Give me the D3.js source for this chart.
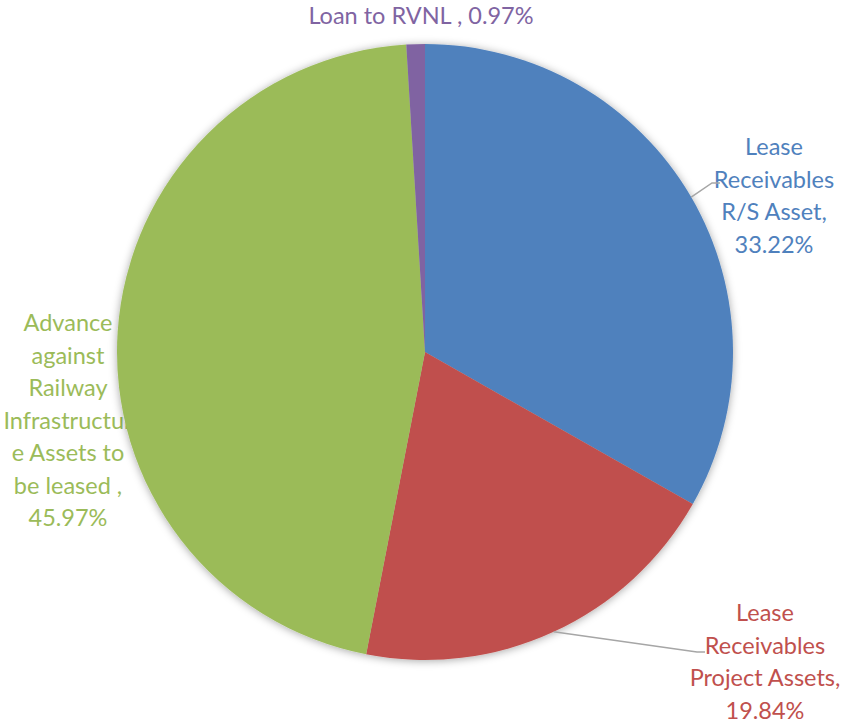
<!DOCTYPE html>
<html>
<head>
<meta charset="utf-8">
<script src="https://cdn.jsdelivr.net/npm/d3@7/dist/d3.min.js"></script>
<style>
  html, body { margin: 0; padding: 0; background: #ffffff; }
  svg { display: block; }
  text { font-family: Lato, "Open Sans", sans-serif; }
</style>
</head>
<body>
<svg id="chart" width="841" height="724"></svg>
<script>
// Portfolio composition
const categories = [
  "Lease Receivables R/S Asset",
  "Lease Receivables Project Assets",
  "Advance against Railway Infrastructure Assets to be leased",
  "Loan to RVNL"
];
const shares = [33.22, 19.84, 45.97, 0.97];
const colors = ["#4F81BD", "#C0504D", "#9BBB59", "#8064A2"];

// Label wrapping (text lines before the value line)
const labelLines = [
  ["Lease", "Receivables", "R/S Asset,"],
  ["Lease", "Receivables", "Project Assets,"],
  ["Advance", "against", "Railway", "Infrastructur", "e Assets to", "be leased ,"],
  ["Loan to RVNL ,"]
];

// Label placement: centre x, first-line baseline y, and leader elbow (null = no leader)
const labelLayout = [
  { x: 774, y: 155, inline: false, elbow: [712, 183] },
  { x: 765, y: 621, inline: false, elbow: [697, 652] },
  { x: 68,  y: 331, inline: false, elbow: null },
  { x: 421, y: 24,  inline: true,  elbow: null }
];

const width = 841, height = 724;
const cx = 425, cy = 352, radius = 308;
const lineHeight = 32.5;

const svg = d3.select("#chart");

const defs = svg.append("defs");
const shadow = defs.append("filter")
  .attr("id", "pieShadow")
  .attr("x", "-20%").attr("y", "-20%")
  .attr("width", "140%").attr("height", "140%");
shadow.append("feDropShadow")
  .attr("dx", 0).attr("dy", 1)
  .attr("stdDeviation", 4)
  .attr("flood-color", "#000")
  .attr("flood-opacity", 0.35);

const data = categories.map((c, i) => ({ name: c, value: shares[i], color: colors[i], i }));

const pie = d3.pie().sort(null).value(d => d.value);
const arcs = pie(data);
const arc = d3.arc().innerRadius(0).outerRadius(radius);

// Labels (drawn first so the pie sits above them)
const labels = svg.append("g").attr("class", "labels");
arcs.forEach((a, i) => {
  const lay = labelLayout[i];
  const lines = lay.inline
    ? [labelLines[i].join(" ") + " " + shares[i].toFixed(2) + "%"]
    : labelLines[i].concat([shares[i].toFixed(2) + "%"]);
  const t = labels.append("text")
    .attr("text-anchor", "middle")
    .attr("font-size", 23.5)
    .attr("fill", colors[i]);
  lines.forEach((ln, k) => {
    t.append("tspan")
      .attr("x", lay.x)
      .attr("y", lay.y + k * lineHeight)
      .text(ln);
  });
});

// Leader lines from the slice mid-angle on the rim
const leaders = svg.append("g").attr("class", "leaders");
arcs.forEach((a, i) => {
  const lay = labelLayout[i];
  if (!lay.elbow) return;
  const mid = (a.startAngle + a.endAngle) / 2;
  const p0 = [cx + radius * Math.sin(mid), cy - radius * Math.cos(mid)];
  const p1 = lay.elbow;
  const p2 = [p1[0] + (p1[0] > p0[0] ? 8 : -8), p1[1]];
  leaders.append("polyline")
    .attr("points", [p0, p1, p2].map(p => p.join(",")).join(" "))
    .attr("fill", "none")
    .attr("stroke", "#A6A6A6")
    .attr("stroke-width", 1.5);
});

// Pie slices
const g = svg.append("g")
  .attr("transform", `translate(${cx},${cy})`)
  .attr("filter", "url(#pieShadow)");
g.selectAll("path")
  .data(arcs)
  .join("path")
  .attr("d", arc)
  .attr("fill", d => d.data.color);

// keep leader start points above the slice edge glow
svg.node().appendChild(leaders.node());
</script>
</body>
</html>
